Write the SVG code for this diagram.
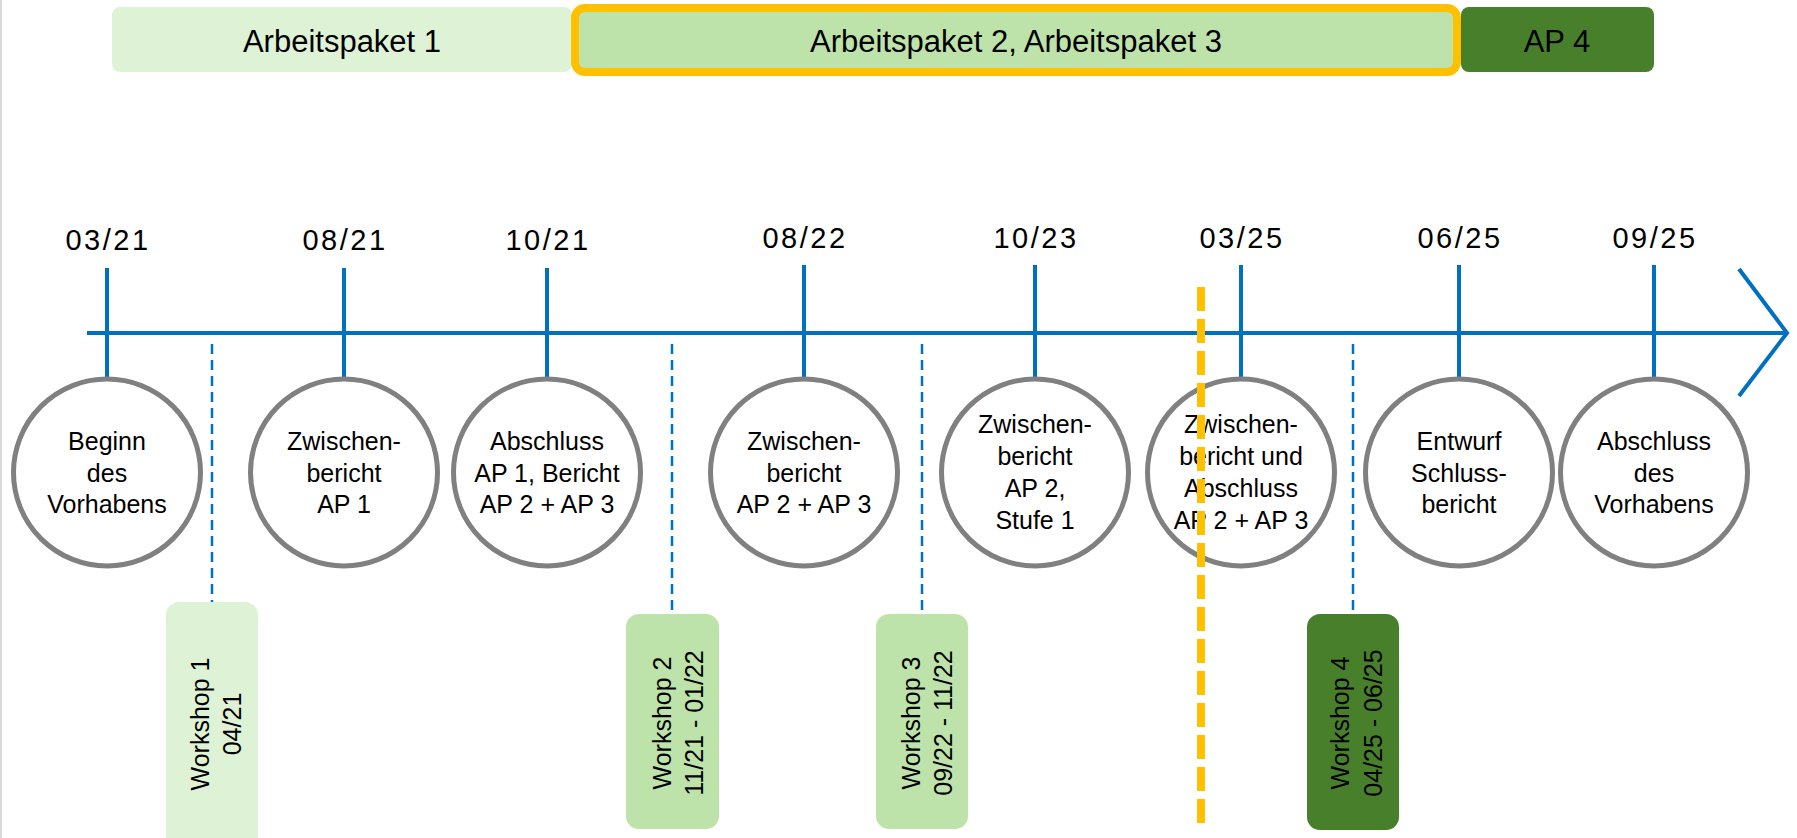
<svg xmlns="http://www.w3.org/2000/svg" width="1797" height="838" viewBox="0 0 1797 838">
<style>
.t{font-family:"Liberation Sans",Arial,sans-serif;fill:#000}
.bar{font-size:31px;text-anchor:middle}
.date{font-size:29px;text-anchor:middle;letter-spacing:2.5px}
.ct{font-size:25px;text-anchor:middle}
.ws{font-size:25px;text-anchor:middle}
.circ{fill:#fff;stroke:#808080;stroke-width:5}
.tick{stroke:#0070C0;stroke-width:4;fill:none}
.dash{stroke:#0070C0;stroke-width:2.5;stroke-dasharray:10 6;fill:none}
</style>
<rect width="1797" height="838" fill="#fff"/>
<line x1="1" y1="0" x2="1" y2="838" stroke="#D9D9D9" stroke-width="2"/>

<g id="ap1"><rect x="112" y="7" width="460" height="65" rx="8" fill="#DEF2D6"/><text class="t bar" x="342" y="51.5">Arbeitspaket 1</text></g>
<g id="ap23"><rect x="575" y="8" width="882" height="64" rx="10" fill="#BDE3AA" stroke="#FFC000" stroke-width="8"/><text class="t bar" x="1016" y="51.5">Arbeitspaket 2, Arbeitspaket 3</text></g>
<g id="ap4"><rect x="1461" y="7" width="193" height="65" rx="8" fill="#487F2A"/><text class="t bar" x="1557" y="51.5">AP 4</text></g>

<g id="connectors">
<line class="tick" x1="87" y1="333" x2="1785" y2="333"/>
<polyline class="tick" points="1739,269 1787,333 1739,396" stroke-linejoin="miter"/>
<line class="tick" x1="107" y1="268" x2="107" y2="378"/>
<line class="tick" x1="344" y1="268" x2="344" y2="378"/>
<line class="tick" x1="547" y1="268" x2="547" y2="378"/>
<line class="tick" x1="804" y1="265" x2="804" y2="378"/>
<line class="tick" x1="1035" y1="265" x2="1035" y2="378"/>
<line class="tick" x1="1241" y1="265" x2="1241" y2="378"/>
<line class="tick" x1="1459" y1="265" x2="1459" y2="378"/>
<line class="tick" x1="1654" y1="265" x2="1654" y2="378"/>
<line class="dash" x1="212" y1="344" x2="212" y2="602"/>
<line class="dash" x1="672" y1="344" x2="672" y2="614"/>
<line class="dash" x1="922" y1="344" x2="922" y2="614"/>
<line class="dash" x1="1353" y1="344" x2="1353" y2="614"/>
</g>

<g id="dates">
<text class="t date" x="108" y="250">03/21</text>
<text class="t date" x="345" y="250">08/21</text>
<text class="t date" x="548" y="250">10/21</text>
<text class="t date" x="805" y="248">08/22</text>
<text class="t date" x="1036" y="248">10/23</text>
<text class="t date" x="1242" y="248">03/25</text>
<text class="t date" x="1460" y="248">06/25</text>
<text class="t date" x="1655" y="248">09/25</text>
</g>

<g id="m1"><circle class="circ" cx="107" cy="472.5" r="93.5"/><text class="t ct" x="107"><tspan x="107" y="450">Beginn</tspan><tspan x="107" y="481.5">des</tspan><tspan x="107" y="513">Vorhabens</tspan></text></g>
<g id="m2"><circle class="circ" cx="344" cy="472.5" r="93.5"/><text class="t ct"><tspan x="344" y="450">Zwischen-</tspan><tspan x="344" y="481.5">bericht</tspan><tspan x="344" y="513">AP 1</tspan></text></g>
<g id="m3"><circle class="circ" cx="547" cy="472.5" r="93.5"/><text class="t ct"><tspan x="547" y="450">Abschluss</tspan><tspan x="547" y="481.5">AP 1, Bericht</tspan><tspan x="547" y="513">AP 2 + AP 3</tspan></text></g>
<g id="m4"><circle class="circ" cx="804" cy="472.5" r="93.5"/><text class="t ct"><tspan x="804" y="450">Zwischen-</tspan><tspan x="804" y="481.5">bericht</tspan><tspan x="804" y="513">AP 2 + AP 3</tspan></text></g>
<g id="m5"><circle class="circ" cx="1035" cy="472.5" r="93.5"/><text class="t ct"><tspan x="1035" y="433">Zwischen-</tspan><tspan x="1035" y="465">bericht</tspan><tspan x="1035" y="497">AP 2,</tspan><tspan x="1035" y="529">Stufe 1</tspan></text></g>
<g id="m6"><circle class="circ" cx="1241" cy="472.5" r="93.5"/><text class="t ct"><tspan x="1241" y="433">Zwischen-</tspan><tspan x="1241" y="465">bericht und</tspan><tspan x="1241" y="497">Abschluss</tspan><tspan x="1241" y="529">AP 2 + AP 3</tspan></text></g>
<g id="m7"><circle class="circ" cx="1459" cy="472.5" r="93.5"/><text class="t ct"><tspan x="1459" y="450">Entwurf</tspan><tspan x="1459" y="481.5">Schluss-</tspan><tspan x="1459" y="513">bericht</tspan></text></g>
<g id="m8"><circle class="circ" cx="1654" cy="472.5" r="93.5"/><text class="t ct"><tspan x="1654" y="450">Abschluss</tspan><tspan x="1654" y="481.5">des</tspan><tspan x="1654" y="513">Vorhabens</tspan></text></g>

<g id="ws1"><rect x="166" y="602" width="92" height="260" rx="13" fill="#DEF2D6"/><g transform="translate(212,724) rotate(-90)"><text class="t ws"><tspan x="0" y="-3">Workshop 1</tspan><tspan x="0" y="29">04/21</tspan></text></g></g>
<g id="ws2"><rect x="626" y="614" width="93" height="215" rx="13" fill="#BDE3AA"/><g transform="translate(672.5,723) rotate(-90)"><text class="t ws"><tspan x="0" y="-2">Workshop 2</tspan><tspan x="0" y="30">11/21 - 01/22</tspan></text></g></g>
<g id="ws3"><rect x="876" y="614" width="92" height="215" rx="13" fill="#BDE3AA"/><g transform="translate(922,723) rotate(-90)"><text class="t ws"><tspan x="0" y="-2">Workshop 3</tspan><tspan x="0" y="30">09/22 - 11/22</tspan></text></g></g>
<g id="ws4"><rect x="1307" y="614" width="92" height="216" rx="13" fill="#487F2A"/><g transform="translate(1353,723) rotate(-90)"><text class="t ws"><tspan x="0" y="-4">Workshop 4</tspan><tspan x="0" y="29">04/25 - 06/25</tspan></text></g></g>

<g id="today"><line x1="1201" y1="287" x2="1201" y2="831" stroke="#FFC000" stroke-width="8" stroke-dasharray="24 8"/></g>
</svg>
